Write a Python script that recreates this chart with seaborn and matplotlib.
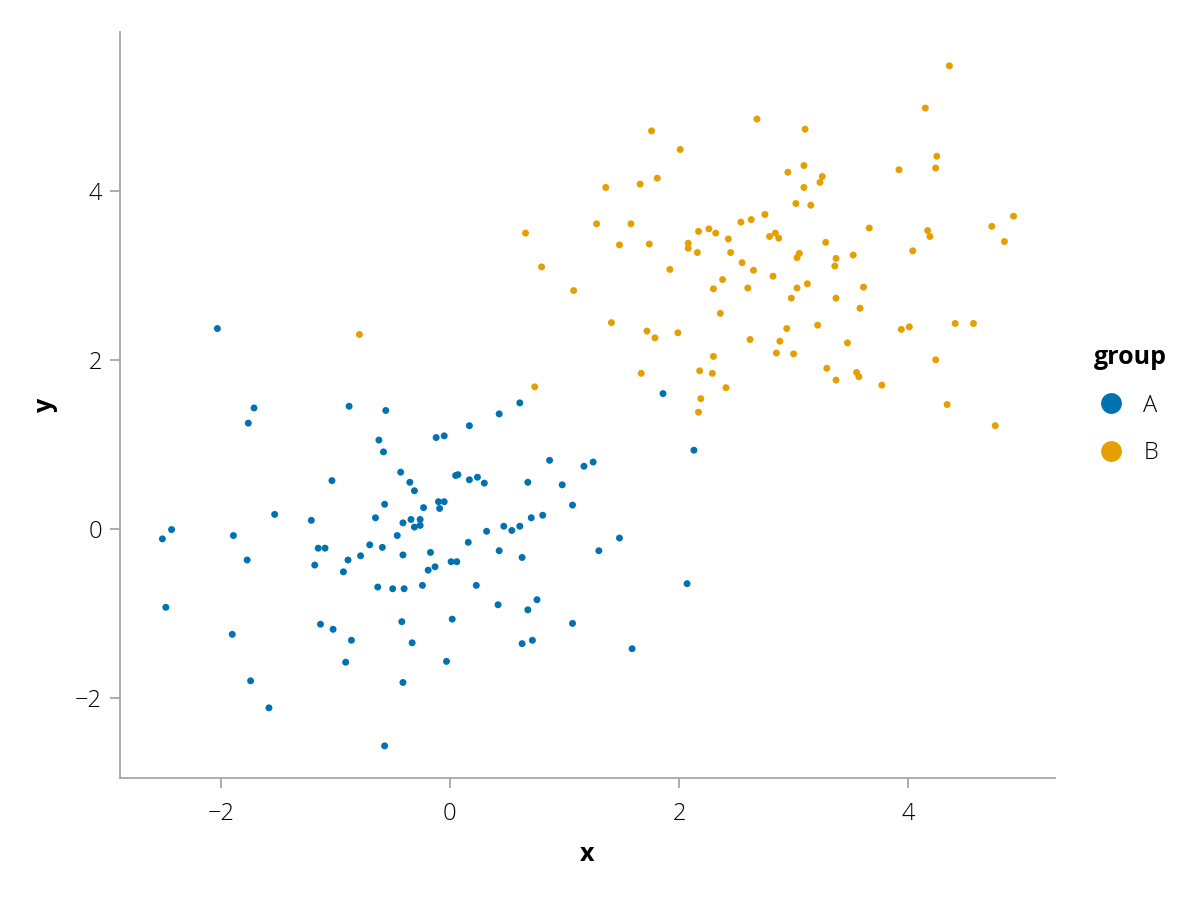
import pandas as pd
import seaborn as sns
import matplotlib.pyplot as plt

# group A points
a_x = [-2.03, -1.71, -1.76, -0.88, -0.56, -0.62, -0.58, -0.12, -0.43, -0.35,
       -0.31, -1.03, -0.57, -0.23, -0.10, -0.09, -1.53, -1.21, -0.65, -0.41,
       -0.34, -0.26, -0.31, -0.26, -2.43, -2.51, -1.89, -0.46, -1.15, -1.09,
       -0.70, -0.59, -0.41, -0.17, -0.78, -1.77, -0.89, -1.18, -0.93, -0.19,
       -0.13, -0.63, -0.50, -0.40, -0.24, -2.48, -1.13, -1.02, -0.86, -0.42,
       -0.33, -1.90, -0.91, -1.74, -0.41, -1.58, -0.57, 1.86, 0.61, 0.43,
       0.17, -0.05, 2.13, 0.87, 1.17, 1.25, 0.05, 0.07, 0.17, 0.24,
       0.30, 0.68, 0.98, 1.07, -0.05, 0.71, 0.81, 0.47, 0.54, 0.61,
       0.32, 0.16, 0.43, 0.63, 1.30, 1.48, 0.01, 0.06, 0.23, 0.42,
       0.68, 0.76, 1.07, 2.07, 0.02, 0.63, 0.72, 1.59, -0.03]
a_y = [2.37, 1.43, 1.25, 1.45, 1.40, 1.05, 0.91, 1.08, 0.67, 0.55,
       0.45, 0.57, 0.29, 0.25, 0.32, 0.24, 0.17, 0.10, 0.13, 0.07,
       0.11, 0.11, 0.02, 0.04, -0.01, -0.12, -0.08, -0.08, -0.23, -0.23,
       -0.19, -0.22, -0.31, -0.28, -0.32, -0.37, -0.37, -0.43, -0.51, -0.49,
       -0.45, -0.69, -0.71, -0.71, -0.67, -0.93, -1.13, -1.19, -1.32, -1.10,
       -1.35, -1.25, -1.58, -1.80, -1.82, -2.12, -2.57, 1.60, 1.49, 1.36,
       1.22, 1.10, 0.93, 0.81, 0.74, 0.79, 0.63, 0.64, 0.58, 0.61,
       0.54, 0.55, 0.52, 0.28, 0.32, 0.13, 0.16, 0.03, -0.02, 0.03,
       -0.03, -0.16, -0.26, -0.34, -0.26, -0.11, -0.39, -0.39, -0.67, -0.90,
       -0.96, -0.84, -1.12, -0.65, -1.07, -1.36, -1.32, -1.42, -1.57]

# group B points
b_x = [2.68, 3.10, 1.76, 2.01, 3.09, 2.95, 3.09, 1.36, 1.66, 1.81,
       3.02, 3.15, 2.75, 2.54, 2.63, 1.28, 1.58, 2.17, 2.26, 2.32,
       2.43, 2.79, 2.84, 2.87, 1.48, 1.74, 2.08, 2.08, 2.16, 2.45,
       3.05, 3.03, 2.55, 2.65, 1.92, 2.82, 2.38, 1.08, 2.30, 2.60,
       3.03, 3.12, 2.98, 4.36, 4.15, 4.25, 3.92, 4.24, 3.25, 3.23,
       3.66, 4.73, 4.92, 4.17, 4.19, 4.84, 3.28, 3.37, 3.36, 3.52,
       4.04, 3.61, 3.37, 2.36, 1.41, 1.72, 1.79, 1.99, 2.62, 2.94,
       2.88, 2.85, 3.00, 2.30, 2.18, 2.29, 1.67, 2.41, 2.19, 2.17,
       3.58, 3.21, 3.94, 4.01, 4.41, 4.57, 3.47, 4.24, 3.29, 3.55,
       3.57, 3.37, 3.77, 4.34, 4.76, -0.79, 0.74, 0.66, 0.80]
b_y = [4.85, 4.73, 4.71, 4.49, 4.30, 4.22, 4.04, 4.04, 4.08, 4.15,
       3.85, 3.83, 3.72, 3.63, 3.66, 3.61, 3.61, 3.52, 3.55, 3.50,
       3.43, 3.46, 3.50, 3.44, 3.36, 3.37, 3.38, 3.32, 3.27, 3.27,
       3.26, 3.21, 3.15, 3.06, 3.07, 2.99, 2.95, 2.82, 2.84, 2.85,
       2.85, 2.90, 2.73, 5.48, 4.98, 4.41, 4.25, 4.27, 4.17, 4.10,
       3.56, 3.58, 3.70, 3.53, 3.46, 3.40, 3.39, 3.20, 3.11, 3.24,
       3.29, 2.86, 2.73, 2.55, 2.44, 2.34, 2.26, 2.32, 2.24, 2.37,
       2.22, 2.08, 2.07, 2.04, 1.87, 1.84, 1.84, 1.67, 1.54, 1.38,
       2.61, 2.41, 2.36, 2.39, 2.43, 2.43, 2.20, 2.00, 1.90, 1.85,
       1.80, 1.76, 1.70, 1.47, 1.22, 2.30, 1.68, 3.50, 3.10]

groups = ['A', 'B']
colors = ['#0072B2', '#E69F00']
ticks = [-2, 0, 2, 4]

df = pd.concat([
    pd.DataFrame({'x': a_x, 'y': a_y, 'group': 'A'}),
    pd.DataFrame({'x': b_x, 'y': b_y, 'group': 'B'}),
])

sns.set_theme(style='ticks')
plt.rcParams['font.family'] = ['Open Sans', 'DejaVu Sans']
plt.rcParams['text.color'] = 'black'
plt.rcParams['axes.labelcolor'] = 'black'

fig = plt.figure(figsize=(12, 9), dpi=100)
ax = fig.add_axes([0.1, 0.1356, 0.779, 0.8288])

sns.scatterplot(data=df, x='x', y='y', hue='group', hue_order=groups,
                palette=colors, s=25, linewidth=0, ax=ax)

ax.set_xlim(-2.88, 5.28)
ax.set_ylim(-2.95, 5.88)
ax.set_xticks(ticks)
ax.set_yticks(ticks)
sns.despine(ax=ax)
for side in ['left', 'bottom']:
    ax.spines[side].set_color('#a6a6a6')
    ax.spines[side].set_linewidth(1.3)
ax.tick_params(colors='#a6a6a6', labelcolor='black', length=7, width=1.3,
               labelsize=17, pad=6)
ax.tick_params(axis='x', pad=10)
for lab in ax.get_xticklabels() + ax.get_yticklabels():
    lab.set_fontweight('light')

ax.set_xlabel('x', fontsize=18, fontweight='bold', labelpad=12)
ax.set_ylabel('y', fontsize=18, fontweight='bold', labelpad=12)

leg = ax.legend(title='group', loc='center left', bbox_to_anchor=(1.029, 0.5),
                frameon=False, markerscale=3, fontsize=17, borderpad=0,
                title_fontproperties={'weight': 'bold', 'size': 18},
                handlelength=1.5, handletextpad=0.6, labelspacing=1.0)
leg._legend_box.align = 'left'
for t in leg.get_texts():
    t.set_fontweight('light')

plt.savefig('out.png', dpi=100)
